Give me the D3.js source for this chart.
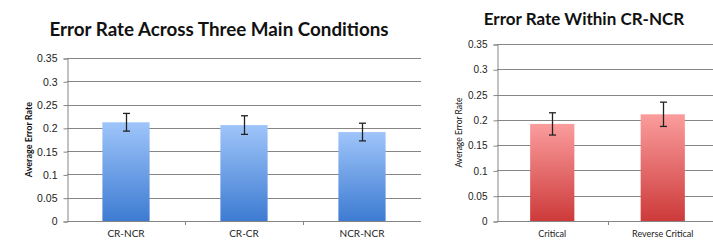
<!DOCTYPE html>
<html>
<head>
<meta charset="utf-8">
<script src="https://cdn.jsdelivr.net/npm/d3@7/dist/d3.min.js"></script>
<style>
  body { margin: 0; background: #fff; }
  svg { display: block; font-family: Lato, "Open Sans", sans-serif; }
  .grid line { stroke: #868686; stroke-width: 1; }
  .axis path, .axis line { stroke: #868686; }
  .axis text { fill: #222; }
</style>
</head>
<body>
<div id="chart"></div>
<script>
// left chart data
const mainConditions = ['CR-NCR', 'CR-CR', 'NCR-NCR'];
const mainRates = [0.212, 0.206, 0.191];
const mainErrors = [0.019, 0.020, 0.019];

// right chart data
const crNcrConditions = ['Critical', 'Reverse Critical'];
const crNcrRates = [0.192, 0.211];
const crNcrErrors = [0.022, 0.024];

const yTicks = [0, 0.05, 0.1, 0.15, 0.2, 0.25, 0.3, 0.35];

const WIDTH = 713;
const HEIGHT = 240;

const svg = d3.select('#chart').append('svg').attr('width', WIDTH).attr('height', HEIGHT);

const defs = svg.append('defs');
function addGradient(id, top, bottom) {
  const g = defs.append('linearGradient').attr('id', id)
    .attr('x1', 0).attr('y1', 0).attr('x2', 0).attr('y2', 1);
  g.append('stop').attr('offset', '0%').attr('stop-color', top);
  g.append('stop').attr('offset', '100%').attr('stop-color', bottom);
}
addGradient('blueGrad', '#9fc5fa', '#3d7bd2');
addGradient('redGrad', '#fb9d9d', '#cd3a3a');

function drawChart(opts) {
  const { cats, values, errors, left, right, top, bottom, fill, title, titleX, titleY, titleSize,
    yLabel, yLabelX, yLabelBold, yLabelSize, tickSize, xLabelSize } = opts;

  // one band per category, bar is band / 2.5 (excel gap width 150%)
  const xb = d3.scaleBand().domain(cats).range([left, right]);
  const y = d3.scaleLinear().domain([0, 0.35]).range([bottom, top]);

  const g = svg.append('g');

  // gridlines
  g.append('g').attr('class', 'grid')
    .selectAll('line').data(yTicks.slice(1)).enter().append('line')
    .attr('x1', left).attr('x2', right)
    .attr('y1', (d) => Math.round(y(d)) + 0.5).attr('y2', (d) => Math.round(y(d)) + 0.5);

  // y axis
  const yAxis = g.append('g').attr('class', 'axis')
    .attr('transform', `translate(${left + 0.5},0.5)`)
    .call(d3.axisLeft(y).tickValues(yTicks).tickSize(4).tickPadding(6).tickFormat((d) => (d === 0 ? '0' : d3.format('')(d))));
  yAxis.selectAll('text').style('font-size', `${tickSize}px`);

  // x axis (ticks at category boundaries)
  const xg = g.append('g').attr('class', 'axis');
  xg.append('line').attr('x1', left).attr('x2', right)
    .attr('y1', bottom + 0.5).attr('y2', bottom + 0.5);
  xg.selectAll('line.tick').data(cats.slice(1)).enter().append('line')
    .attr('class', 'tick')
    .attr('x1', (d) => Math.round(xb(d)) + 0.5).attr('x2', (d) => Math.round(xb(d)) + 0.5)
    .attr('y1', bottom).attr('y2', bottom + 4);
  xg.selectAll('text').data(cats).enter().append('text')
    .attr('x', (d) => xb(d) + xb.bandwidth() / 2)
    .attr('y', bottom + 16)
    .attr('text-anchor', 'middle')
    .style('font-size', `${xLabelSize}px`)
    .text((d) => d);

  // bars
  const bw = xb.bandwidth() / 2.5;
  g.selectAll('rect.bar').data(cats).enter().append('rect')
    .attr('class', 'bar')
    .attr('x', (d) => xb(d) + (xb.bandwidth() - bw) / 2)
    .attr('width', bw)
    .attr('y', (d, i) => y(values[i]))
    .attr('height', (d, i) => bottom - y(values[i]))
    .attr('fill', fill);

  // error bars
  const eb = g.append('g').attr('stroke', '#222').attr('stroke-width', 1.3);
  cats.forEach((c, i) => {
    const cx = Math.round(xb(c) + xb.bandwidth() / 2) + 0.5;
    const y1 = y(values[i] + errors[i]);
    const y2 = y(values[i] - errors[i]);
    eb.append('line').attr('x1', cx).attr('x2', cx).attr('y1', y1).attr('y2', y2);
    eb.append('line').attr('x1', cx - 3.5).attr('x2', cx + 3.5).attr('y1', y1).attr('y2', y1);
    eb.append('line').attr('x1', cx - 3.5).attr('x2', cx + 3.5).attr('y1', y2).attr('y2', y2);
  });

  // title
  svg.append('text').attr('x', titleX).attr('y', titleY)
    .attr('text-anchor', 'middle')
    .style('font-size', `${titleSize}px`).style('font-weight', 'bold').attr('fill', '#111')
    .text(title);

  // y label
  svg.append('text')
    .attr('transform', `translate(${yLabelX},${(top + bottom) / 2}) rotate(-90)`)
    .attr('text-anchor', 'middle')
    .style('font-size', `${yLabelSize}px`).style('font-weight', yLabelBold ? 'bold' : 'normal')
    .attr('fill', '#111')
    .text(yLabel);
}

drawChart({
  cats: mainConditions, values: mainRates, errors: mainErrors,
  left: 67, right: 421, top: 58, bottom: 221, fill: 'url(#blueGrad)',
  title: 'Error Rate Across Three Main Conditions', titleX: 219, titleY: 36, titleSize: 18.8,
  yLabel: 'Average Error Rate', yLabelX: 32, yLabelBold: true, yLabelSize: 9,
  tickSize: 10.5, xLabelSize: 10
});

drawChart({
  cats: crNcrConditions, values: crNcrRates, errors: crNcrErrors,
  left: 497, right: 718, top: 44, bottom: 221, fill: 'url(#redGrad)',
  title: 'Error Rate Within CR-NCR', titleX: 584, titleY: 25, titleSize: 17,
  yLabel: 'Average Error Rate', yLabelX: 462, yLabelBold: false, yLabelSize: 8.5,
  tickSize: 10, xLabelSize: 9
});
</script>
</body>
</html>
